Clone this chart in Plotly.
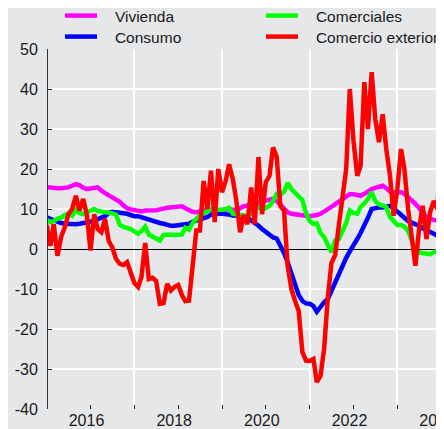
import pandas as pd
import plotly.graph_objects as go

# Monthly data, Jan 2015 onwards
vivienda = [15.5, 15.3, 15.2, 15.2, 15.2, 15.2, 15.4, 15.8, 16.2, 16.0, 15.3, 15.0,
            15.2, 15.5, 15.4, 14.6, 13.9, 13.4, 12.9, 12.5, 11.8, 10.9, 10.2, 9.9,
            9.7, 9.5, 9.4, 9.6, 9.6, 9.6, 9.7, 9.9, 10.2, 10.3, 10.4, 10.5,
            10.6, 10.7, 10.2, 9.6, 9.3, 9.2, 9.4, 9.7, 9.8, 9.7, 9.6, 9.5,
            9.6, 9.8, 10.0, 9.8, 9.7, 10.2, 10.7, 10.8, 11.0, 11.3, 11.6, 11.9,
            12.2, 12.4, 12.5, 12.0, 11.0, 10.0, 9.2, 8.8, 8.6, 8.5, 8.4, 8.3,
            8.2, 8.3, 8.5, 8.8, 9.3, 9.8, 10.5, 11.2, 11.8, 12.5, 13.2, 13.7,
            13.7, 13.5, 13.3, 13.8, 14.5, 15.0, 15.3, 15.6, 15.8, 15.2, 14.4, 14.2,
            14.2, 14.2, 13.8, 13.0, 12.2, 11.3, 10.2, 9.0, 8.0, 7.5, 7.2, 6.9,
            6.7, 6.6]

consumo = [7.9, 7.5, 7.1, 6.8, 6.5, 6.3, 6.2, 6.2, 6.2, 6.3, 6.4, 6.6,
           6.8, 7.1, 7.4, 7.8, 8.2, 9.0, 9.3, 9.2, 9.1, 9.0, 8.8, 8.5,
           8.2, 8.2, 7.9, 7.7, 7.4, 7.1, 6.8, 6.5, 6.3, 6.0, 5.8, 5.8,
           5.9, 5.9, 6.0, 6.3, 6.8, 7.1, 7.3, 7.5, 8.0, 8.6, 8.8, 8.8,
           8.8, 8.8, 8.6, 8.4, 8.3, 8.3, 8.3, 7.8, 7.2, 6.3, 5.8, 5.0,
           4.2, 3.4, 2.9, 2.6, 1.0, -1.0, -3.3, -6.0, -8.7, -11.5, -13.0, -13.6,
           -13.7, -14.3, -15.7, -14.3, -13.3, -12.5, -10.5, -8.0, -6.0, -4.0, -2.2, -0.6,
           0.8, 2.5, 4.0, 5.7, 7.8, 10.0, 10.3, 10.4, 10.4, 10.6, 10.8, 10.2,
           9.3, 8.4, 7.7, 7.0, 6.6, 6.3, 5.8, 5.2, 4.8, 4.4, 3.8, 3.3,
           2.9, 2.7]

comerciales = [7.3, 6.7, 7.0, 7.6, 7.8, 8.5, 8.8, 8.3, 9.8, 9.0, 8.7, 9.2,
               9.8, 10.0, 9.5, 9.4, 9.2, 9.0, 8.9, 8.6, 6.0, 5.5, 5.2, 5.0,
               4.4, 3.8, 4.5, 5.6, 3.6, 3.0, 2.6, 2.1, 3.5, 3.6, 3.6, 3.5,
               3.5, 3.6, 5.3, 4.8, 6.5, 7.6, 8.4, 8.9, 9.4, 10.0, 9.8, 9.7,
               9.8, 10.0, 10.3, 8.8, 8.6, 8.4, 8.3, 8.3, 8.8, 9.8, 10.4, 10.0,
               10.2, 10.8, 12.0, 13.8, 13.6, 14.3, 16.5, 15.0, 14.0, 13.0, 12.2, 9.0,
               7.0, 6.3, 6.4, 4.0, 3.0, 1.0, -0.8, 2.2, 2.5, 4.5, 6.5, 9.6,
               9.0, 8.8, 10.5, 11.4, 12.5, 14.2, 12.0, 11.2, 10.8, 10.5, 8.0, 6.8,
               6.0, 6.0, 5.6, 4.5, 2.0, -0.4, -0.9, -1.0, -1.1, -1.3, -0.8, -0.5,
               1.2, 1.4]

comercio_exterior = [6.0, 0.8, 6.2, -1.7, 3.0, 5.4, 8.7, 10.0, 13.3, 9.6, 12.5, 8.7,
                     -0.4, 8.7, 5.0, 4.2, 7.5, 2.0, 0.4, -2.5, -3.7, -4.0, -3.3, -6.2,
                     -8.5, -9.5, -7.0, 1.5, -7.5, -7.2, -8.0, -13.7, -13.5, -8.7, -10.4, -9.5,
                     -9.0, -11.5, -13.0, -12.9, -5.0, 4.6, 4.6, 17.0, 10.0, 19.6, 6.7, 20.0,
                     14.2, 17.0, 21.2, 17.5, 12.0, 4.2, 8.5, 6.2, 15.4, 6.2, 23.0, 8.7,
                     16.7, 18.3, 25.4, 23.0, 10.8, 9.6, -4.2, -10.0, -13.0, -15.5, -25.8, -27.9,
                     -28.0, -27.5, -33.3, -31.7, -25.0, -12.0, -3.5, -1.5, 6.0, 14.0, 20.0, 40.0,
                     27.0, 18.3, 20.8, 41.7, 30.0, 44.2, 32.5, 26.7, 33.7, 25.0, 18.3, 8.3,
                     15.0, 25.0, 20.0, 10.0, 3.3, -4.2, 5.0, 10.8, 2.5, 9.2, 12.0, 10.0,
                     27.0, 24.0]

dates = pd.date_range("2015-01-01", periods=len(vivienda), freq="MS")

major_ticks = ["2016-01-01", "2018-01-01", "2020-01-01", "2022-01-01", "2024-01-01"]
major_labels = ["2016", "2018", "2020", "2022", "2024"]
minor_ticks = ["2017-01-01", "2019-01-01", "2021-01-01", "2023-01-01"]
y_ticks = [-40, -30, -20, -10, 0, 10, 20, 30, 40, 50]
y_labels = ["-40", "-30", "-20", "-10", "0", "10", "20", "30", "40", "50"]

W, H = 436, 421  # page body has an 8px margin
series = [
    ("Vivienda", vivienda, "#ff00ff", "legend", 1 - 8 / H, 52 / W),
    ("Consumo", consumo, "#0000ff", "legend2", 1 - 29 / H, 52 / W),
    ("Comerciales", comerciales, "#00ff00", "legend3", 1 - 8 / H, 253 / W),
    ("Comercio exterior", comercio_exterior, "#ff0000", "legend4", 1 - 29 / H, 253 / W),
]

fig = go.Figure()
for name, vals, color, lg, _, _ in series:
    fig.add_trace(go.Scatter(x=dates, y=vals, mode="lines", name="\u00a0\u00a0\u00a0" + name,
                             line=dict(color=color, width=4.5), legend=lg))

bg = "#e6e7e9"
font = dict(family="Liberation Sans, Arial, sans-serif", size=16, color="#1a1a1a")
legend_font = dict(family="Liberation Sans, Arial, sans-serif", size=15.5, color="#1a1a1a")

layout_legends = {}
for name, vals, color, lg, ly, lx in series:
    layout_legends[lg] = dict(x=lx, y=ly, xref="container", yref="container",
                              xanchor="left", yanchor="middle", bgcolor="rgba(0,0,0,0)",
                              font=legend_font, itemwidth=32)

fig.update_layout(
    width=W, height=H,
    margin=dict(l=40, r=0, t=41, b=20, autoexpand=False),
    paper_bgcolor=bg, plot_bgcolor=bg,
    font=font,
    showlegend=True,
    **layout_legends,
)

fig.update_xaxes(
    type="date",
    range=["2015-01-12", "2024-01-25"],
    tickmode="array", tickvals=major_ticks, ticktext=major_labels,
    ticks="inside", ticklen=4, tickcolor="#222", tickwidth=1, tickangle=0,
    showgrid=False, showline=False, zeroline=False,
    minor=dict(tickmode="array", tickvals=minor_ticks, ticks="inside", ticklen=4,
               tickcolor="#222", showgrid=True, gridcolor="#ffffff", gridwidth=1.5),
    tickfont=font, automargin=False, ticklabeloverflow="allow", ticklabelshift=-4,
)
fig.update_yaxes(
    range=[-40, 50],
    tickmode="array", tickvals=y_ticks, ticktext=y_labels,
    ticks="inside", ticklen=4, tickcolor="#222", tickwidth=1,
    showgrid=True, gridcolor="#ffffff", gridwidth=1.5,
    showline=True, linecolor="#333", linewidth=1,
    zeroline=True, zerolinecolor="#000000", zerolinewidth=1,
    tickfont=font, ticklabelstandoff=6, automargin=False,
)

fig.write_html("out.html")
